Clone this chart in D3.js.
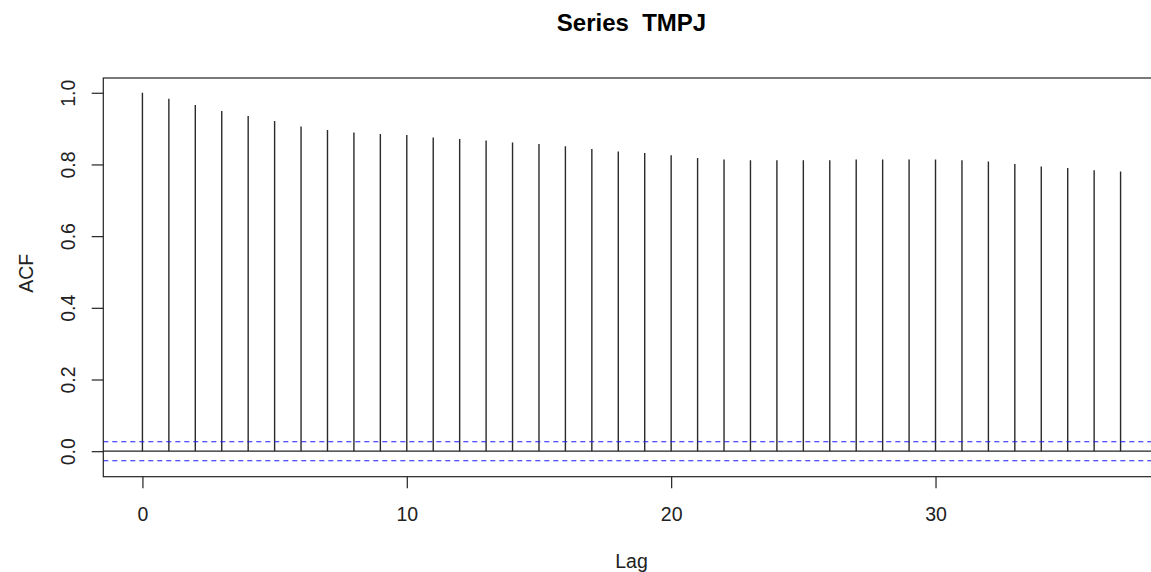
<!DOCTYPE html>
<html><head><meta charset="utf-8">
<script src="https://cdn.jsdelivr.net/npm/d3@7"></script>
<style>body{margin:0;background:#fff}svg{display:block}text{font-family:"Liberation Sans",Arial,sans-serif;fill:#222}</style>
</head><body><svg id="c" width="1151" height="572"></svg>
<script>
const lags = d3.range(0, 38);
const acfValues = [1.000,0.983,0.966,0.949,0.935,0.921,0.906,0.896,0.889,0.885,
  0.882,0.875,0.871,0.867,0.861,0.857,0.851,0.843,0.836,0.832,
  0.826,0.818,0.814,0.812,0.812,0.812,0.812,0.814,0.814,0.814,
  0.814,0.812,0.808,0.801,0.794,0.790,0.784,0.780];
const confLimit = 0.0265;
const xTicks = [0, 10, 20, 30];
const yTicks = [0, 0.2, 0.4, 0.6, 0.8, 1.0];
const title = "Series  TMPJ";

(function(){
const svg = d3.select("#c");
const pL = 103.3, pR = 1159.7, pT = 78, pB = 476.7;
const xlim = [0, 37], ylim = [-0.0300, 1.0];
const xr = xlim[1]-xlim[0], yr = ylim[1]-ylim[0];
const x = d3.scaleLinear().domain([xlim[0]-0.04*xr, xlim[1]+0.04*xr]).range([pL, pR]);
const y = d3.scaleLinear().domain([ylim[0]-0.04*yr, ylim[1]+0.04*yr]).range([pB, pT]);
const fs = 19.5;

svg.append("line").attr("x1", pL).attr("x2", pR).attr("y1", y(0)).attr("y2", y(0))
  .attr("stroke", "#222").attr("stroke-width", 1.2);

svg.append("g").selectAll("line").data(lags).join("line")
  .attr("x1", d => x(d)).attr("x2", d => x(d))
  .attr("y1", y(0)).attr("y2", d => y(acfValues[d]))
  .attr("stroke", "#2a2a2a").attr("stroke-width", 1.4);

[confLimit, -confLimit].forEach(c => {
  svg.append("line").attr("x1", pL).attr("x2", pR).attr("y1", y(c)).attr("y2", y(c))
    .attr("stroke", "#1a1aff").attr("stroke-width", 1.1).attr("stroke-dasharray", "5,4");
});

svg.append("rect").attr("x", pL).attr("y", pT).attr("width", pR-pL).attr("height", pB-pT)
  .attr("fill", "none").attr("stroke", "#222").attr("stroke-width", 1.2);

const xa = svg.append("g").attr("transform", `translate(0,${pB})`)
  .call(d3.axisBottom(x).tickValues(xTicks).tickSize(11.6).tickFormat(d3.format("d")));
xa.select(".domain").remove();
xa.selectAll("line").attr("stroke", "#222").attr("stroke-width", 1.2);
xa.selectAll("text").attr("font-size", fs).attr("font-family", "Liberation Sans, Arial, sans-serif").attr("fill", "#222").attr("dy", null).attr("y", 44);

const ya = svg.append("g").attr("transform", `translate(${pL},0)`)
  .call(d3.axisLeft(y).tickValues(yTicks).tickSize(11.6).tickFormat(d3.format(".1f")));
ya.select(".domain").remove();
ya.selectAll("line").attr("stroke", "#222").attr("stroke-width", 1.2);
ya.selectAll("text").attr("font-size", fs).attr("font-family", "Liberation Sans, Arial, sans-serif").attr("fill", "#222")
  .attr("x", null).attr("dy", null)
  .attr("text-anchor", "middle")
  .attr("transform", "translate(-28.5,0) rotate(-90)");

svg.append("text").attr("x", (pL+pR)/2).attr("y", 31).attr("text-anchor", "middle")
  .attr("font-size", 24).attr("font-weight", "bold").style("fill", "#000").style("white-space", "pre")
  .attr("xml:space", "preserve").text(title);
svg.append("text").attr("x", (pL+pR)/2).attr("y", 568).attr("text-anchor", "middle")
  .attr("font-size", fs).text("Lag");
svg.append("text").attr("transform", `translate(33,${(pT+pB)/2 - 4}) rotate(-90)`).attr("text-anchor", "middle")
  .attr("font-size", fs).text("ACF");
})();
</script></body></html>
